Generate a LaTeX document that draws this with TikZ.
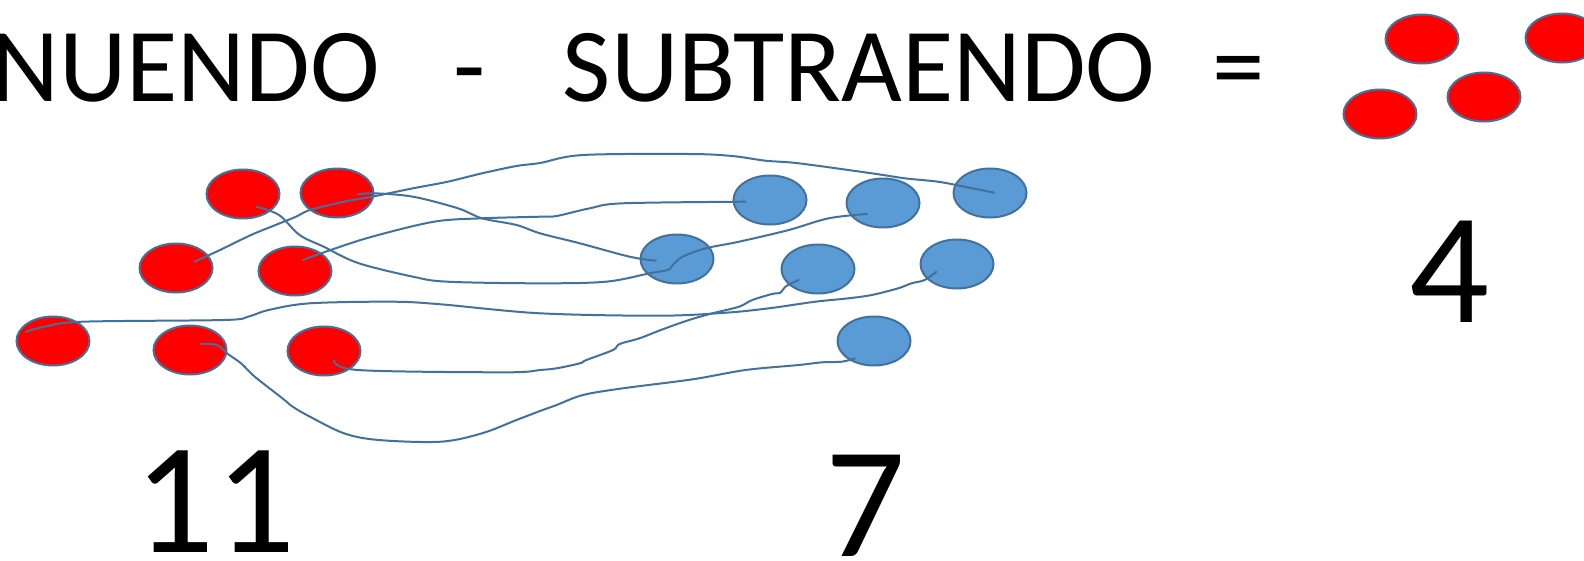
\documentclass[tikz,border=0pt]{standalone}
\usepackage{fontspec}
\setmainfont{Carlito}
\usetikzlibrary{shapes.geometric}
\definecolor{outl}{HTML}{41719C}
\definecolor{ballred}{HTML}{FF0000}
\definecolor{ballblue}{HTML}{5B9BD5}
\tikzset{
  ball/.style={ellipse, draw=outl, line width=2pt, minimum width=73pt, minimum height=49pt, inner sep=0pt},
  redball/.style={ball, fill=ballred},
  blueball/.style={ball, fill=ballblue},
  wire/.style={draw=outl, line width=2pt, line cap=round, line join=round},
  bigword/.style={inner sep=0pt, font=\fontsize{105}{120}\selectfont},
  bignum/.style={inner sep=0pt, anchor=base, font=\fontsize{158}{180}\selectfont}
}
\begin{document}
\begin{tikzpicture}[x=1pt,y=-1pt]
\useasboundingbox (0,0) rectangle (1584,560);
% title
\node[bigword, anchor=base west] (w1) at (-9,101) {NUENDO};
\node[bigword, anchor=base] (w2) at (470,101) {-};
\node[bigword, anchor=base] (w3) at (859,101) {SUBTRAENDO};
\node[bigword, anchor=base] (w4) at (1239,101) {=};
% result balls
\node[redball] (t1) at (1422,39) {};
\node[redball] (t2) at (1562,38) {};
\node[redball] (t3) at (1484,97) {};
\node[redball] (t4) at (1380,114) {};
% numbers
\node[bignum] (n4) at (1450,322) {4};
\node[bignum] (n11) at (215,552) {11};
\node[bignum] (n7) at (866,556) {7};
% minuend balls
\node[redball] (r1) at (243,194) {};
\node[redball] (r2) at (337,193) {};
\node[redball] (r3) at (176,268) {};
\node[redball] (r4) at (295,271) {};
\node[redball] (r5) at (53,341) {};
\node[redball] (r6) at (190,350) {};
\node[redball] (r7) at (324,351) {};
% subtrahend balls
\node[blueball] (b1) at (770,200) {};
\node[blueball] (b2) at (883,203) {};
\node[blueball] (b3) at (990,193) {};
\node[blueball] (b4) at (677,259) {};
\node[blueball] (b5) at (818,269) {};
\node[blueball] (b6) at (957,264) {};
\node[blueball] (b7) at (874,341) {};
% connector end points inside the balls
\coordinate (a0) at ([shift={(13.5,12.7)}]r1.center);
\coordinate (a1) at ([shift={(-16,11)}]b2.center);
\coordinate (c0) at ([shift={(21,1.3)}]r2.center);
\coordinate (c1) at ([shift={(-21,1.7)}]b4.center);
\coordinate (d0) at ([shift={(18.6,-6.3)}]r3.center);
\coordinate (d1) at ([shift={(4.4,-0.3)}]b3.center);
\coordinate (e0) at ([shift={(8,-11)}]r4.center);
\coordinate (e1) at ([shift={(-24.4,1.7)}]b1.center);
\coordinate (f0) at ([shift={(-27,-9.3)}]r5.center);
\coordinate (f1) at ([shift={(-20.7,7.7)}]b6.center);
\coordinate (g0) at ([shift={(10,9)}]r7.center);
\coordinate (g1) at ([shift={(-19.3,11)}]b5.center);
\coordinate (h0) at ([shift={(11.4,-6)}]r6.center);
\coordinate (h1) at ([shift={(-19,17.3)}]b7.center);
% connectors
\draw[wire] plot[smooth, tension=0.55] coordinates {(a0) (279,215) (299.6,235) (323.7,246.7) (358,263) (413,276.7) (447.7,281.7) (540,283.3) (606,281.7) (649.5,273.3) (667.7,270) (672.7,265) (682.6,256.7) (705.8,248.3) (739,241.7) (788.8,230) (828.6,218.3) (a1)};
\draw[wire] plot[smooth, tension=0.55] coordinates {(c0) (375,193.3) (413,196.7) (458,208.3) (482,218.3) (516.5,225) (540,233.3) (579.8,243.3) (629.6,256.7) (c1)};
\draw[wire] plot[smooth, tension=0.55] coordinates {(d0) (220,250) (251,235) (275.5,225) (296,216.7) (310,210) (344,201.7) (372,196.7) (413,188.3) (447.7,181.7) (482,173.3) (516.5,166) (540,163) (583,155) (689,154) (732,156) (765.5,160.7) (798.7,163.3) (871.7,173.3) (904.8,178.3) (938,181.7) (964.5,186.7) (d1)};
\draw[wire] plot[smooth, tension=0.55] coordinates {(e0) (330.6,250) (372,236.7) (434,221.7) (482,218.3) (540,216.7) (556.6,216) (589.8,208.3) (623,203.3) (e1)};
\draw[wire] plot[smooth, tension=0.55] coordinates {(f0) (44.8,326.7) (82.6,321.7) (223.8,320) (248,316.7) (268.6,310) (310,303.3) (392.6,301.7) (440.8,304.3) (540,313.3) (659.4,315.7) (725.7,312.7) (768.9,308.3) (815.3,301.7) (848.5,298.3) (871.7,295) (898.2,288.3) (911.5,283.3) (924.7,280) (f1)};
\draw[wire] plot[smooth, tension=0.55] coordinates {(g0) (358,370) (506,372.3) (540,370) (556.6,368.3) (579.8,363.3) (586.4,360) (613,350) (619.6,344) (639.5,338.3) (662.7,329.3) (689,320) (712.5,313.3) (739,306.7) (752.3,300) (772,294) (780.5,292.7) (785.4,286.7) (g1)};
\draw[wire] plot[smooth, tension=0.55] coordinates {(h0) (217,345) (227,353.3) (241,363.3) (254.8,376.7) (282.4,398.3) (292.7,406.7) (310,416.7) (344,433.3) (378.8,440) (440.8,441.7) (482,433.3) (516.5,420) (540,411) (556.6,405) (583,395) (623,388.3) (692.6,379.3) (745.6,370) (798.7,365) (822,362.3) (841.8,361.7) (h1)};
\end{tikzpicture}
\end{document}
